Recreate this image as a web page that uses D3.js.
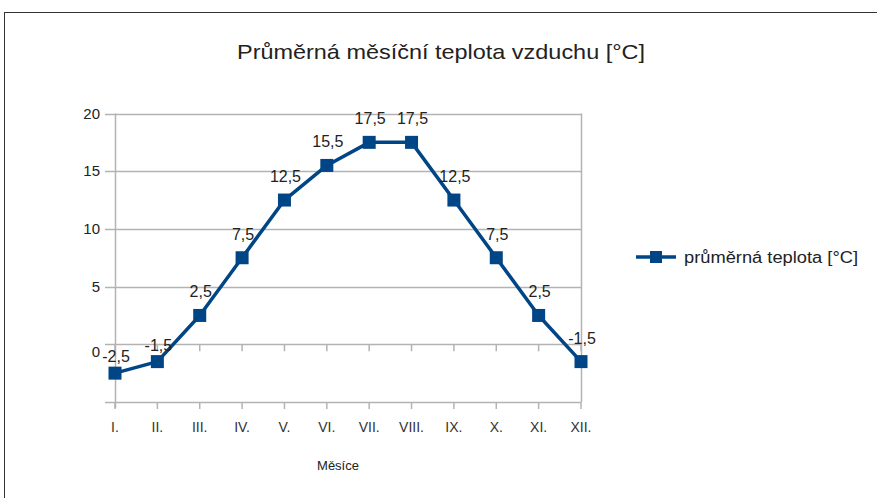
<!DOCTYPE html>
<html><head><meta charset="utf-8">
<script src="https://cdn.jsdelivr.net/npm/d3@7"></script>
<style>body{margin:0;background:#fff}svg{display:block}</style>
</head><body>
<script>
const months = ["I.","II.","III.","IV.","V.","VI.","VII.","VIII.","IX.","X.","XI.","XII."];
const temps = [-2.5,-1.5,2.5,7.5,12.5,15.5,17.5,17.5,12.5,7.5,2.5,-1.5];
const yTicks = [0,5,10,15,20];
const gridVals = [-5,0,5,10,15,20];
const title = "Průměrná  měsíční teplota vzduchu  [°C]";
const xTitle = "Měsíce";
const seriesName = "průměrná teplota [°C]";

const W = 877, H = 498;
const svg = d3.select("body").append("svg").attr("width", W).attr("height", H);
const font = "Liberation Sans, Arial, sans-serif";
const blue = "#004586", grid = "#b3b3b3";

svg.append("rect").attr("x",4.5).attr("y",12.5).attr("width",W).attr("height",H)
  .attr("fill","#fff").attr("stroke","#333").attr("stroke-width",1);

const x = d3.scalePoint().domain(months).range([115, 581]);
const y = d3.scaleLinear().domain([-5, 20]).range([402, 113.5]);

// gridlines
svg.append("g").selectAll("line").data(gridVals).join("line")
  .attr("x1",105).attr("x2",581).attr("y1",d=>Math.round(y(d))+0.5).attr("y2",d=>Math.round(y(d))+0.5)
  .attr("stroke",grid).attr("stroke-width",1.5);
// vertical axis + right border
svg.append("line").attr("x1",115.5).attr("x2",115.5).attr("y1",y(20)).attr("y2",408).attr("stroke",grid).attr("stroke-width",1.5);
svg.append("line").attr("x1",581.5).attr("x2",581.5).attr("y1",y(20)).attr("y2",402).attr("stroke",grid).attr("stroke-width",1.5);
// x ticks at 0 line and bottom
svg.append("g").selectAll("line").data(months).join("line")
  .attr("x1",d=>x(d)).attr("x2",d=>x(d)).attr("y1",y(0)).attr("y2",y(0)+7).attr("stroke",grid).attr("stroke-width",1.5);
svg.append("g").selectAll("line").data(months).join("line")
  .attr("x1",d=>x(d)).attr("x2",d=>x(d)).attr("y1",y(-5)).attr("y2",y(-5)+7).attr("stroke",grid).attr("stroke-width",1.5);

// y labels
svg.append("g").selectAll("text").data(yTicks).join("text")
  .attr("x",100).attr("y",d=>y(d)+(d===0?13:5)).attr("text-anchor","end")
  .attr("font-family",font).attr("font-size",15).attr("fill","#222").text(d=>d);
// x labels
svg.append("g").selectAll("text").data(months).join("text")
  .attr("x",d=>x(d)).attr("y",432).attr("text-anchor","middle")
  .attr("font-family",font).attr("font-size",14).attr("fill","#333").text(d=>d);

// line
svg.append("path").datum(temps)
  .attr("d", d3.line().x((d,i)=>x(months[i])).y(d=>y(d)))
  .attr("fill","none").attr("stroke",blue).attr("stroke-width",3.5).attr("stroke-linejoin","round");
svg.append("g").selectAll("rect").data(temps).join("rect")
  .attr("x",(d,i)=>x(months[i])-6.5).attr("y",d=>y(d)-6.5).attr("width",13).attr("height",13).attr("fill",blue);
// data labels
svg.append("g").selectAll("text").data(temps).join("text")
  .attr("x",(d,i)=>x(months[i])+1).attr("y",(d,i)=>y(d)-(i<2?11:18)).attr("text-anchor","middle")
  .attr("font-family",font).attr("font-size",16).attr("fill","#222")
  .text(d=>String(d).replace(".",","));

// title
svg.append("text").attr("x",441).attr("y",59).attr("text-anchor","middle")
  .attr("font-family",font).attr("font-size",21).attr("fill","#222")
  .attr("textLength",408).attr("lengthAdjust","spacingAndGlyphs").text(title);
svg.append("text").attr("x",338).attr("y",470).attr("text-anchor","middle")
  .attr("font-family",font).attr("font-size",13).attr("fill","#222").text(xTitle);

// legend
svg.append("line").attr("x1",636).attr("x2",676).attr("y1",257).attr("y2",257).attr("stroke",blue).attr("stroke-width",3.5);
svg.append("rect").attr("x",650).attr("y",251).attr("width",12).attr("height",12).attr("fill",blue);
svg.append("text").attr("x",684).attr("y",263).attr("font-family",font).attr("font-size",16)
  .attr("fill","#222").attr("textLength",174).attr("lengthAdjust","spacingAndGlyphs").text(seriesName);
</script>
</body></html>
